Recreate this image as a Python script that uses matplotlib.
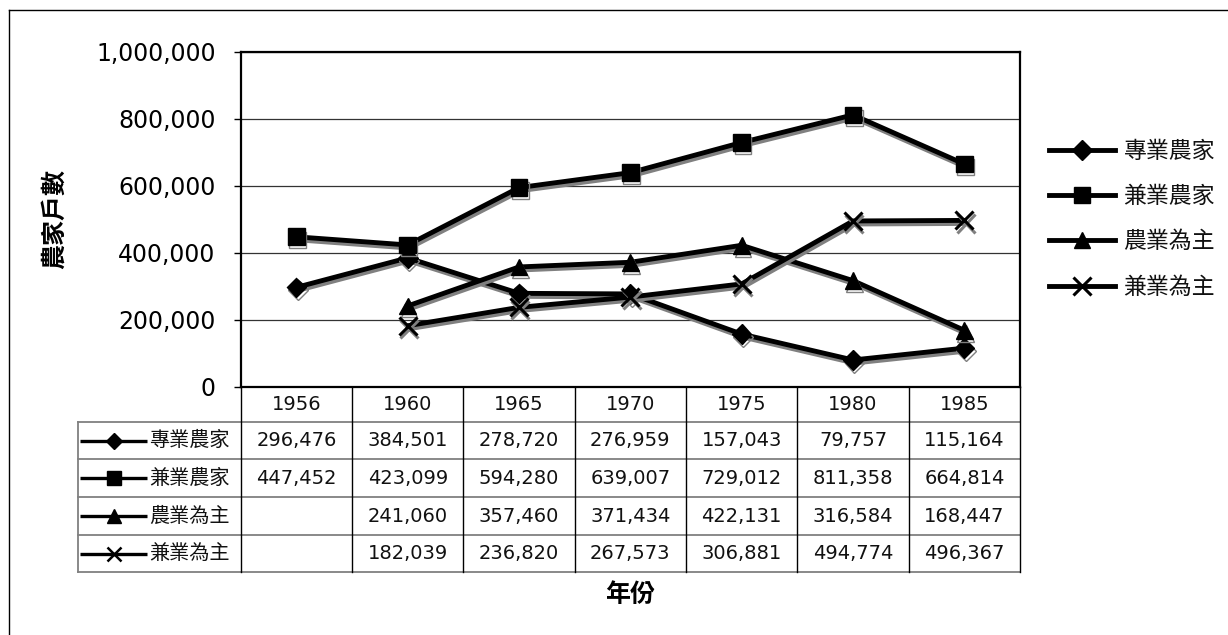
import numpy as np
import matplotlib
matplotlib.use("Agg")
import matplotlib.pyplot as plt
import matplotlib.patheffects as pe
from matplotlib.lines import Line2D
from matplotlib.ticker import FuncFormatter

plt.rcParams['font.family'] = ['DejaVu Sans', 'Noto Sans CJK TC']

# ---------------- data ----------------
years = ['1956', '1960', '1965', '1970', '1975', '1980', '1985']
series_names = ['專業農家', '兼業農家', '農業為主', '兼業為主']
full_time = [296476, 384501, 278720, 276959, 157043, 79757, 115164]
part_time = [447452, 423099, 594280, 639007, 729012, 811358, 664814]
mainly_farm = [np.nan, 241060, 357460, 371434, 422131, 316584, 168447]
mainly_side = [np.nan, 182039, 236820, 267573, 306881, 494774, 496367]
series = [full_time, part_time, mainly_farm, mainly_side]
y_ticks = [0, 200000, 400000, 600000, 800000, 1000000]
y_label = '農家戶數'
x_label = '年份'

markers = ['D', 's', '^', 'x']
msizes = [10, 12, 12, 13]

# ---------------- layout ----------------
W, H = 1228, 635
fig = plt.figure(figsize=(W / 100, H / 100), dpi=100)

ov = fig.add_axes([0, 0, 1, 1], zorder=0)
ov.set_xlim(0, W)
ov.set_ylim(H, 0)
ov.axis('off')

L, R, T, B = 240.7, 1020.0, 51.7, 386.7
ax = fig.add_axes([L / W, 1 - B / H, (R - L) / W, (B - T) / H], zorder=1)

shadow = [pe.SimpleLineShadow(offset=(1, -2.2), shadow_color='#808080', alpha=1.0),
          pe.Normal()]

x = np.arange(len(years))
for vals, m, ms in zip(series, markers, msizes):
    ax.plot(x, vals, color='black', lw=3.5, marker=m, ms=ms,
            mew=2.2 if m == 'x' else 1, mec='black', mfc='black',
            path_effects=shadow, clip_on=False, zorder=3)

ax.set_xlim(-0.5, len(years) - 0.5)
ax.set_ylim(0, 1000000)
ax.set_yticks(y_ticks)
ax.yaxis.set_major_formatter(FuncFormatter(lambda v, p: f'{v:,.0f}'))
ax.yaxis.grid(True, color='#333333', lw=0.9)
ax.set_axisbelow(True)
ax.set_xticks([])
ax.tick_params(axis='y', length=5, width=1, pad=13, labelsize=17,
               direction='out', colors='black')
for s in ax.spines.values():
    s.set_color('black')
    s.set_linewidth(1.6)

# ---------------- data table ----------------
col_w = (R - L) / len(years)
row_edges = [386.7, 421.7, 459.3, 497.3, 535.0, 572.3]
LBL_L = 77.7

for i, yr in enumerate(years):
    ov.text(L + (i + 0.5) * col_w, (row_edges[0] + row_edges[1]) / 2, yr,
            ha='center', va='center', fontsize=14, color='#111111')

for r, (name, vals, m, ms) in enumerate(zip(series_names, series, markers, msizes)):
    yc = (row_edges[r + 1] + row_edges[r + 2]) / 2
    ov.plot([80, 147], [yc, yc], color='black', lw=2.4, solid_capstyle='butt')
    ov.plot([113.5], [yc], marker=m, ms=ms * 0.8, color='black',
            mew=1.8 if m == 'x' else 1, mfc='black', mec='black')
    ov.text(149, yc, name, ha='left', va='center', fontsize=14.5,
            color='#111111', family=['Noto Sans CJK TC', 'DejaVu Sans'])
    for i, v in enumerate(vals):
        if not np.isnan(v):
            ov.text(L + (i + 0.5) * col_w, yc, f'{v:,.0f}', ha='center',
                    va='center', fontsize=14, color='#111111')

for yy in row_edges[1:]:
    ov.plot([LBL_L, R], [yy, yy], color='#808080', lw=1.3)
for i in range(len(years) + 1):
    xx = L + i * col_w
    ov.plot([xx, xx], [row_edges[0], row_edges[-1]], color='black', lw=1.0)
ov.plot([LBL_L, LBL_L], [row_edges[1], row_edges[-1]], color='#808080', lw=1.3)

# ---------------- outer border ----------------
ov.plot([8.5, 8.5], [10, H + 5], color='black', lw=1.0)
ov.plot([8.5, W + 5], [10, 10], color='black', lw=1.0)

# ---------------- legend ----------------
handles = [Line2D([], [], color='black', lw=3.5, marker=m, ms=ms,
                  mew=2.2 if m == 'x' else 1, mfc='black', mec='black')
           for m, ms in zip(markers, msizes)]
leg = fig.legend(handles, series_names, loc='center left',
                 bbox_to_anchor=(1049 / W, 1 - 219.2 / H), frameon=False,
                 fontsize=16.5, handlelength=2.9, handletextpad=0.35,
                 labelspacing=0.97, borderpad=0, borderaxespad=0)
for t in leg.get_texts():
    t.set_family(['Noto Sans CJK TC', 'DejaVu Sans'])
    t.set_color('#111111')

# ---------------- axis titles ----------------
fig.text(55 / W, 1 - (T + B) / 2 / H, y_label, rotation=90, ha='center',
         va='center', fontsize=18, fontweight='bold',
         family=['Noto Sans CJK TC', 'DejaVu Sans'])
fig.text((L + R) / 2 / W, 1 - 595 / H, x_label, ha='center', va='center',
         fontsize=18, fontweight='bold',
         family=['Noto Sans CJK TC', 'DejaVu Sans'])

fig.savefig('out.png', dpi=100)
